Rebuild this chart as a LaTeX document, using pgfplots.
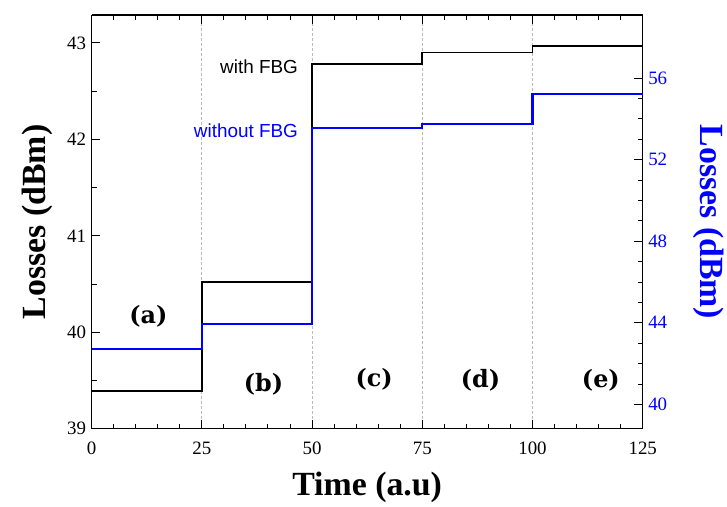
\documentclass[border=0pt]{standalone}
\usepackage{fontspec}
\setmainfont{Liberation Serif}
\newfontfamily\arial{Liberation Sans}
\newfontfamily\cambria{DejaVu Serif}
\usepackage{pgfplots}
\pgfplotsset{compat=1.18}
\definecolor{fbgblue}{HTML}{0000FF}

\begin{document}
\begin{tikzpicture}
\pgfplotsset{
  every axis/.append style={
    width=554pt, height=416pt, scale only axis,
    xmin=0, xmax=125,
    tick align=inside,
    major tick length=9pt, minor tick length=5pt,
    tick style={black, line width=0.9pt},
    axis line style={line width=1.2pt},
    tick label style={font=\fontsize{19}{19}\selectfont},
    /pgf/number format/assume math mode=true,
  },
}
\begin{axis}[
  ymin=39, ymax=43.29,
  axis y line*=left,
  ytick={39,40,41,42,43},
  minor y tick num=1,
  xtick={0,25,50,75,100,125},
  minor x tick num=4,
  xtick pos=both,
  xmajorgrids,
  grid style={gray!55, line width=0.6pt, dash pattern=on 3pt off 2pt},
  xlabel={Time (a.u)},
  ylabel={Losses (dBm)},
  label style={font=\fontsize{34}{34}\selectfont\bfseries},
  xlabel style={at={(axis description cs:0.5,-0.142)}, anchor=center},
  ylabel style={at={(axis description cs:-0.099,0.5)}, anchor=center},
  yticklabel style={xshift=-2pt},
  xticklabel style={yshift=-10pt},
]
\addplot[const plot, black, line width=1.8pt, mark=none] coordinates {
  (0,39.39) (25,40.52) (50,42.78) (75,42.90) (100,42.97) (125,42.97)
};
\node[font=\arial\fontsize{19}{19}\selectfont, anchor=east, text=black] at (axis cs:47.6,42.756) {with FBG};
\node[font=\arial\fontsize{19}{19}\selectfont, anchor=east, text=fbgblue] at (axis cs:47.6,42.09) {without FBG};
\node[font=\cambria\bfseries\fontsize{24}{24}\selectfont] at (axis cs:12.9,40.165) {(a)};
\node[font=\cambria\bfseries\fontsize{24}{24}\selectfont] at (axis cs:39.0,39.46) {(b)};
\node[font=\cambria\bfseries\fontsize{24}{24}\selectfont] at (axis cs:64.1,39.51) {(c)};
\node[font=\cambria\bfseries\fontsize{24}{24}\selectfont] at (axis cs:88.2,39.50) {(d)};
\node[font=\cambria\bfseries\fontsize{24}{24}\selectfont] at (axis cs:115.5,39.50) {(e)};
\coordinate (bl) at (rel axis cs:0,0);
\coordinate (tr) at (rel axis cs:1,1);
\end{axis}
\begin{axis}[
  ymin=38.8, ymax=59.09,
  axis y line*=right,
  axis x line=none,
  ytick={40,44,48,52,56},
  minor y tick num=3,
  yticklabel style={text=fbgblue, xshift=2pt},
  ylabel={Losses (dBm)},
  ylabel style={font=\fontsize{34}{34}\selectfont\bfseries, text=fbgblue,
    at={(axis description cs:1.119,0.5)}, anchor=center, rotate=180},
]
\addplot[const plot, fbgblue, line width=2.1pt, mark=none] coordinates {
  (0,42.71) (25,43.92) (50,53.53) (75,53.74) (100,55.22) (125,55.22)
};
\end{axis}
\path (bl) ++(-92pt,-76pt) coordinate (pbl);
\path (tr) ++(81pt,15pt) coordinate (ptr);
\path (pbl) rectangle (ptr);
\end{tikzpicture}
\end{document}
